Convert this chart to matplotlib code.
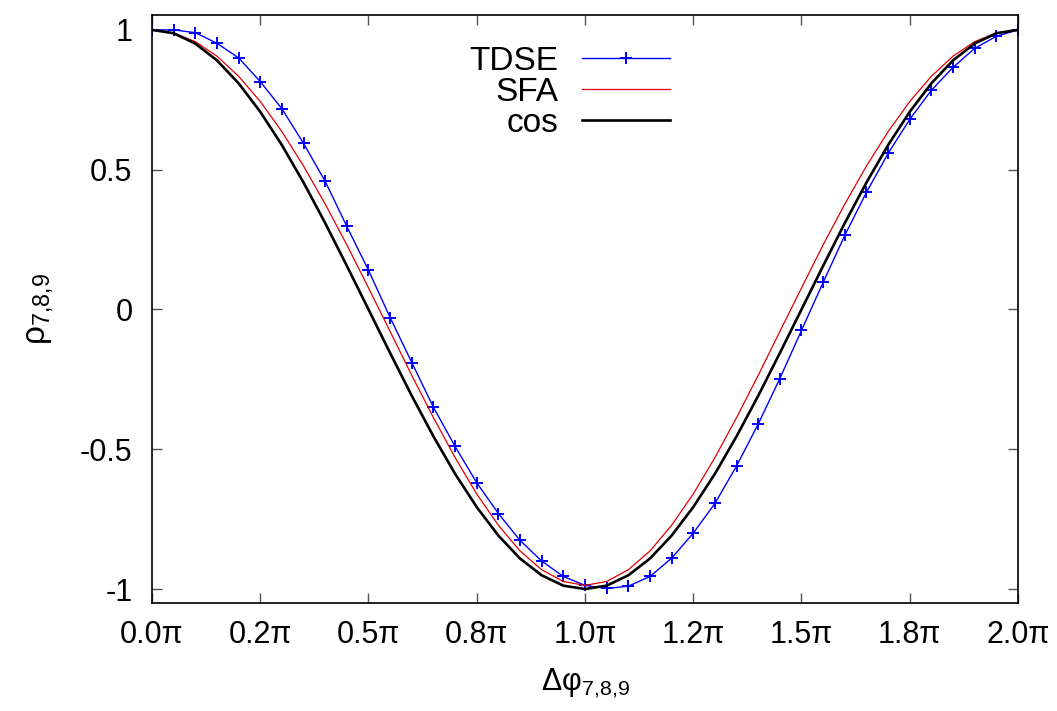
import numpy as np
import matplotlib
matplotlib.use("Agg")
import matplotlib.pyplot as plt

plt.rcParams['font.family'] = ['Liberation Sans', 'DejaVu Sans']
plt.rcParams['mathtext.fontset'] = 'custom'
plt.rcParams['mathtext.rm'] = 'Liberation Sans'
plt.rcParams['mathtext.it'] = 'Liberation Sans'

# phase in units of pi, step 0.05 pi
phase = [0.05 * k for k in range(41)]

tdse = [1.000, 1.000, 0.990, 0.952, 0.900, 0.815, 0.718, 0.594, 0.458, 0.297,
        0.140, -0.029, -0.190, -0.350, -0.490, -0.620, -0.730, -0.826, -0.900, -0.955,
        -0.987, -0.998, -0.990, -0.955, -0.890, -0.800, -0.694, -0.560, -0.410, -0.247,
        -0.075, 0.097, 0.265, 0.419, 0.558, 0.680, 0.784, 0.866, 0.934, 0.977,
        1.000]

sfa = [1.000, 0.989, 0.958, 0.906, 0.834, 0.744, 0.636, 0.513, 0.377, 0.231,
       0.077, -0.079, -0.236, -0.387, -0.530, -0.660, -0.772, -0.864, -0.931, -0.973,
       -0.987, -0.973, -0.931, -0.864, -0.772, -0.660, -0.530, -0.387, -0.236, -0.079,
       0.077, 0.231, 0.377, 0.513, 0.636, 0.744, 0.834, 0.906, 0.958, 0.989,
       1.000]

cosv = [1.000, 0.988, 0.951, 0.891, 0.809, 0.707, 0.588, 0.454, 0.309, 0.156,
        0.000, -0.156, -0.309, -0.454, -0.588, -0.707, -0.809, -0.891, -0.951, -0.988,
        -1.000, -0.988, -0.951, -0.891, -0.809, -0.707, -0.588, -0.454, -0.309, -0.156,
        0.000, 0.156, 0.309, 0.454, 0.588, 0.707, 0.809, 0.891, 0.951, 0.988,
        1.000]

xticks_pi = [0, 0.25, 0.5, 0.75, 1.0, 1.25, 1.5, 1.75, 2.0]
xtick_labels = ['0.0π', '0.2π', '0.5π', '0.8π', '1.0π', '1.2π', '1.5π', '1.8π', '2.0π']
yticks = [-1, -0.5, 0, 0.5, 1]
ytick_labels = ['-1', '-0.5', '0', '0.5', '1']

x = np.array(phase) * np.pi

fig = plt.figure(figsize=(10.57, 7.11), dpi=100)
ax = fig.add_axes([0.1438, 0.1519, 0.8193, 0.8277])

ax.plot(x, tdse, color='#0000ff', lw=1.0, marker='+', ms=9, mew=1.4, label='TDSE')
ax.plot(x, sfa, color='#e00000', lw=0.9, label='SFA')
ax.plot(x, cosv, color='black', lw=1.9, label='cos', solid_joinstyle='round')

ax.set_xlim(0, 2 * np.pi)
ax.set_ylim(-1.05, 1.055)
ax.set_xticks(np.array(xticks_pi) * np.pi)
ax.set_xticklabels(xtick_labels)
ax.set_yticks(yticks)
ax.set_yticklabels(ytick_labels)

ax.tick_params(direction='in', length=7, width=1.0, color='#555555',
               top=True, right=True, labelsize=22)
ax.tick_params(axis='x', pad=12)
ax.tick_params(axis='y', pad=14)
for s in ax.spines.values():
    s.set_linewidth(1.2)

ax.set_xlabel('Δφ$_{7{,}8{,}9}$', fontsize=22, labelpad=12)
ax.set_ylabel('ρ$_{7{,}8{,}9}$', fontsize=24, labelpad=18)

ax.legend(loc='upper right', bbox_to_anchor=(0.598, 0.947), frameon=False,
          markerfirst=False, fontsize=24, handlelength=2.65, handletextpad=0.7,
          labelspacing=0.0, borderpad=0, borderaxespad=0)

fig.savefig('out.png', dpi=100)
